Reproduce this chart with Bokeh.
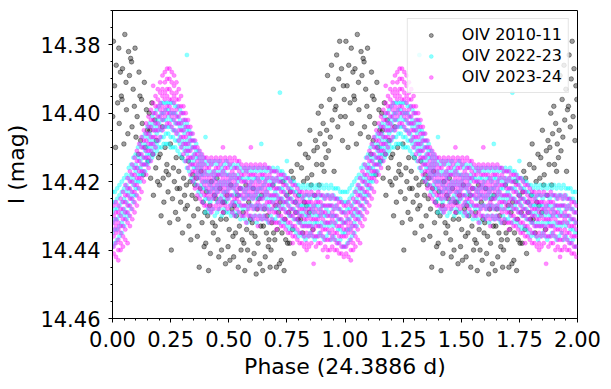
from bokeh.plotting import figure
from bokeh.models import Range1d, FixedTicker, PrintfTickFormatter
from bokeh.embed import file_html
from bokeh.resources import INLINE

# ---------------- data (phase folded, period 24.3886 d) ----------------
# OIV 2010-11 : individual points (phase, I mag)
phase_2010 = [
    0.001, 0.004, 0.009, 0.013, 0.016, 0.022, 0.027, 0.029, 0.034, 0.038,
    0.041, 0.043, 0.049, 0.053, 0.058, 0.060, 0.066, 0.069, 0.073, 0.078,
    0.082, 0.084, 0.089, 0.094, 0.097, 0.101, 0.106, 0.111, 0.114, 0.118,
    0.121, 0.125, 0.128, 0.133, 0.137, 0.141, 0.146, 0.150, 0.153, 0.158,
    0.161, 0.164, 0.169, 0.173, 0.176, 0.182, 0.186, 0.189, 0.194, 0.198,
    0.202, 0.205, 0.209, 0.214, 0.218, 0.221, 0.226, 0.231, 0.234, 0.239,
    0.241, 0.246, 0.249, 0.253, 0.258, 0.262, 0.266, 0.271, 0.274, 0.278,
    0.282, 0.285, 0.289, 0.293, 0.298, 0.301, 0.306, 0.310, 0.313, 0.318,
    0.322, 0.326, 0.329, 0.334, 0.337, 0.342, 0.345, 0.349, 0.354, 0.358,
    0.361, 0.365, 0.368, 0.373, 0.377, 0.381, 0.385, 0.390, 0.394, 0.397,
    0.401, 0.404, 0.409, 0.413, 0.418, 0.421, 0.425, 0.430, 0.434, 0.438,
    0.442, 0.445, 0.449, 0.454, 0.457, 0.462, 0.466, 0.469, 0.474, 0.478,
    0.481, 0.486, 0.489, 0.493, 0.497, 0.502, 0.505, 0.509, 0.514, 0.518,
    0.521, 0.524, 0.529, 0.533, 0.538, 0.541, 0.546, 0.549, 0.553, 0.558,
    0.562, 0.565, 0.569, 0.574, 0.577, 0.581, 0.586, 0.590, 0.593, 0.598,
    0.601, 0.605, 0.609, 0.613, 0.618, 0.622, 0.626, 0.629, 0.634, 0.638,
    0.641, 0.646, 0.649, 0.653, 0.657, 0.662, 0.665, 0.670, 0.673, 0.678,
    0.682, 0.685, 0.690, 0.693, 0.698, 0.702, 0.705, 0.709, 0.714, 0.718,
    0.721, 0.726, 0.729, 0.733, 0.738, 0.741, 0.745, 0.750, 0.753, 0.758,
    0.762, 0.765, 0.769, 0.774, 0.777, 0.781, 0.786, 0.789, 0.794, 0.798,
    0.801, 0.805, 0.809, 0.813, 0.818, 0.822, 0.825, 0.830, 0.834, 0.838,
    0.842, 0.846, 0.849, 0.854, 0.857, 0.862, 0.866, 0.869, 0.873, 0.878,
    0.881, 0.885, 0.889, 0.893, 0.898, 0.901, 0.906, 0.910, 0.913, 0.918,
    0.921, 0.925, 0.929, 0.934, 0.937, 0.942, 0.945, 0.950, 0.953, 0.957,
    0.961, 0.964, 0.969, 0.973, 0.977, 0.981, 0.985, 0.989, 0.993, 0.997,
]
mag_2010 = [
    14.401, 14.379, 14.392, 14.410, 14.386, 14.397, 14.381, 14.403, 14.388, 14.395,
    14.396, 14.387, 14.409, 14.377, 14.391, 14.399, 14.406, 14.382, 14.389, 14.384,
    14.385, 14.404, 14.393, 14.398, 14.381, 14.407, 14.401, 14.412, 14.388, 14.395,
    14.408, 14.396, 14.403, 14.418, 14.391, 14.410, 14.399, 14.405, 14.414, 14.400,
    14.405, 14.419, 14.397, 14.412, 14.424, 14.402, 14.416, 14.408, 14.420, 14.413,
    14.421, 14.412, 14.430, 14.404, 14.419, 14.426, 14.410, 14.417, 14.415, 14.423,
    14.418, 14.432, 14.409, 14.440, 14.425, 14.416, 14.420, 14.429, 14.413, 14.422,
    14.431, 14.417, 14.422, 14.426, 14.413, 14.435, 14.419, 14.424, 14.428, 14.421,
    14.427, 14.414, 14.433, 14.420, 14.437, 14.424, 14.418, 14.430, 14.421, 14.425,
    14.419, 14.436, 14.428, 14.445, 14.422, 14.417, 14.432, 14.426, 14.439, 14.429,
    14.438, 14.423, 14.430, 14.446, 14.427, 14.441, 14.420, 14.432, 14.435, 14.424,
    14.433, 14.425, 14.419, 14.437, 14.442, 14.422, 14.431, 14.440, 14.426, 14.429,
    14.426, 14.444, 14.431, 14.424, 14.439, 14.434, 14.443, 14.421, 14.428, 14.436,
    14.442, 14.427, 14.435, 14.430, 14.424, 14.445, 14.433, 14.422, 14.440, 14.437,
    14.429, 14.438, 14.446, 14.421, 14.434, 14.440, 14.426, 14.443, 14.431, 14.435,
    14.432, 14.422, 14.441, 14.436, 14.447, 14.428, 14.438, 14.425, 14.444, 14.433,
    14.424, 14.446, 14.433, 14.428, 14.442, 14.435, 14.430, 14.439, 14.437, 14.445,
    14.440, 14.432, 14.421, 14.435, 14.437, 14.427, 14.445, 14.434, 14.429, 14.444,
    14.426, 14.443, 14.435, 14.420, 14.446, 14.431, 14.437, 14.424, 14.438, 14.429,
    14.438, 14.423, 14.417, 14.434, 14.419, 14.441, 14.426, 14.429, 14.415, 14.431,
    14.424, 14.409, 14.431, 14.416, 14.435, 14.420, 14.426, 14.412, 14.427, 14.419,
    14.413, 14.429, 14.405, 14.421, 14.418, 14.434, 14.411, 14.424, 14.408, 14.415,
    14.410, 14.400, 14.421, 14.406, 14.398, 14.415, 14.403, 14.417, 14.409, 14.413,
    14.405, 14.389, 14.411, 14.396, 14.407, 14.386, 14.402, 14.393, 14.417, 14.399,
    14.398, 14.383, 14.404, 14.390, 14.379, 14.401, 14.387, 14.408, 14.392, 14.396,
]

# OIV 2022-23 : points grouped by phase bin (bin phase, I mags in that bin)
phase_2223 = [
    0.00, 0.01, 0.02, 0.03, 0.04, 0.05, 0.06, 0.07, 0.08, 0.09,
    0.10, 0.11, 0.12, 0.13, 0.14, 0.15, 0.16, 0.17, 0.18, 0.19,
    0.20, 0.21, 0.22, 0.23, 0.24, 0.25, 0.26, 0.27, 0.28, 0.29,
    0.30, 0.31, 0.32, 0.33, 0.34, 0.35, 0.36, 0.37, 0.38, 0.39,
    0.40, 0.41, 0.42, 0.43, 0.44, 0.45, 0.46, 0.47, 0.48, 0.49,
    0.50, 0.51, 0.52, 0.53, 0.54, 0.55, 0.56, 0.57, 0.58, 0.59,
    0.60, 0.61, 0.62, 0.63, 0.64, 0.65, 0.66, 0.67, 0.68, 0.69,
    0.70, 0.71, 0.72, 0.73, 0.74, 0.75, 0.76, 0.77, 0.78, 0.79,
    0.80, 0.81, 0.82, 0.83, 0.84, 0.85, 0.86, 0.87, 0.88, 0.89,
    0.90, 0.91, 0.92, 0.93, 0.94, 0.95, 0.96, 0.97, 0.98, 0.99,
]
mag_2223 = [
    [14.423, 14.426, 14.429, 14.432, 14.435, 14.439],
    [14.423, 14.426, 14.428, 14.431, 14.434, 14.438],
    [14.422, 14.425, 14.428, 14.431, 14.434, 14.437],
    [14.421, 14.424, 14.427, 14.430, 14.433, 14.436],
    [14.420, 14.423, 14.426, 14.429, 14.432, 14.435],
    [14.419, 14.422, 14.425, 14.428, 14.430, 14.433],
    [14.418, 14.421, 14.423, 14.426, 14.429, 14.431],
    [14.416, 14.419, 14.422, 14.424, 14.427, 14.430],
    [14.415, 14.418, 14.420, 14.423, 14.425, 14.428],
    [14.413, 14.416, 14.419, 14.421, 14.424, 14.426],
    [14.412, 14.415, 14.417, 14.420, 14.422, 14.424],
    [14.410, 14.413, 14.416, 14.418, 14.420, 14.422],
    [14.409, 14.412, 14.414, 14.416, 14.418, 14.420],
    [14.407, 14.410, 14.413, 14.415, 14.417, 14.418],
    [14.406, 14.409, 14.411, 14.413, 14.415, 14.417],
    [14.404, 14.407, 14.410, 14.412, 14.414, 14.415],
    [14.403, 14.406, 14.408, 14.410, 14.412, 14.414],
    [14.401, 14.404, 14.407, 14.409, 14.411, 14.413],
    [14.400, 14.403, 14.405, 14.408, 14.410, 14.412],
    [14.399, 14.402, 14.404, 14.406, 14.409, 14.411],
    [14.398, 14.401, 14.403, 14.405, 14.408, 14.410],
    [14.397, 14.400, 14.402, 14.405, 14.407, 14.410],
    [14.397, 14.400, 14.402, 14.404, 14.407, 14.409],
    [14.397, 14.399, 14.402, 14.404, 14.406, 14.409],
    [14.397, 14.399, 14.401, 14.404, 14.406, 14.409],
    [14.397, 14.400, 14.402, 14.404, 14.407, 14.410],
    [14.397, 14.400, 14.402, 14.405, 14.407, 14.410],
    [14.398, 14.400, 14.403, 14.405, 14.408, 14.410],
    [14.398, 14.401, 14.403, 14.406, 14.408, 14.411],
    [14.399, 14.402, 14.404, 14.407, 14.409, 14.412],
    [14.400, 14.403, 14.405, 14.408, 14.410, 14.413],
    [14.402, 14.404, 14.406, 14.409, 14.411, 14.414],
    [14.383, 14.403, 14.405, 14.408, 14.410, 14.412, 14.416],
    [14.405, 14.407, 14.409, 14.411, 14.414, 14.417],
    [14.406, 14.408, 14.410, 14.413, 14.415, 14.419],
    [14.408, 14.410, 14.412, 14.414, 14.416, 14.420],
    [14.409, 14.411, 14.413, 14.416, 14.418, 14.421],
    [14.411, 14.413, 14.415, 14.417, 14.419, 14.423],
    [14.412, 14.414, 14.416, 14.418, 14.421, 14.424],
    [14.413, 14.415, 14.418, 14.420, 14.422, 14.426],
    [14.407, 14.414, 14.417, 14.420, 14.422, 14.425, 14.429],
    [14.415, 14.418, 14.420, 14.423, 14.425, 14.428],
    [14.414, 14.417, 14.421, 14.423, 14.426, 14.429],
    [14.415, 14.418, 14.420, 14.422, 14.425, 14.428],
    [14.414, 14.417, 14.419, 14.422, 14.424, 14.430],
    [14.415, 14.418, 14.421, 14.423, 14.426, 14.429],
    [14.414, 14.417, 14.420, 14.422, 14.425, 14.428],
    [14.416, 14.418, 14.421, 14.424, 14.426, 14.430],
    [14.415, 14.417, 14.420, 14.423, 14.425, 14.428],
    [14.414, 14.418, 14.421, 14.423, 14.426, 14.429],
    [14.415, 14.418, 14.420, 14.422, 14.425, 14.429],
    [14.416, 14.419, 14.421, 14.424, 14.427, 14.430],
    [14.415, 14.418, 14.422, 14.424, 14.426, 14.429],
    [14.416, 14.419, 14.421, 14.423, 14.426, 14.430],
    [14.415, 14.418, 14.420, 14.424, 14.427, 14.429],
    [14.416, 14.419, 14.422, 14.424, 14.427, 14.431],
    [14.417, 14.419, 14.422, 14.425, 14.428, 14.430],
    [14.416, 14.420, 14.423, 14.425, 14.427, 14.431],
    [14.417, 14.419, 14.422, 14.424, 14.428, 14.432],
    [14.416, 14.419, 14.421, 14.424, 14.427, 14.430],
    [14.417, 14.420, 14.422, 14.425, 14.427, 14.431],
    [14.416, 14.419, 14.422, 14.424, 14.428, 14.430],
    [14.417, 14.419, 14.423, 14.425, 14.427, 14.432],
    [14.416, 14.420, 14.422, 14.424, 14.427, 14.430],
    [14.409, 14.417, 14.419, 14.422, 14.425, 14.428, 14.431],
    [14.416, 14.419, 14.421, 14.424, 14.427, 14.430],
    [14.417, 14.420, 14.423, 14.425, 14.428, 14.431],
    [14.416, 14.419, 14.422, 14.424, 14.427, 14.432],
    [14.417, 14.420, 14.422, 14.425, 14.428, 14.430],
    [14.416, 14.419, 14.421, 14.424, 14.426, 14.431],
    [14.417, 14.420, 14.423, 14.425, 14.428, 14.431],
    [14.416, 14.419, 14.422, 14.424, 14.427, 14.430],
    [14.394, 14.417, 14.420, 14.422, 14.425, 14.428, 14.432],
    [14.417, 14.419, 14.422, 14.425, 14.427, 14.431],
    [14.418, 14.420, 14.423, 14.426, 14.428, 14.432],
    [14.414, 14.419, 14.421, 14.424, 14.426, 14.429, 14.433],
    [14.419, 14.422, 14.425, 14.427, 14.430, 14.434],
    [14.420, 14.422, 14.425, 14.428, 14.430, 14.433],
    [14.420, 14.423, 14.426, 14.428, 14.431, 14.434],
    [14.421, 14.423, 14.426, 14.429, 14.431, 14.435],
    [14.421, 14.424, 14.427, 14.429, 14.432, 14.436],
    [14.422, 14.424, 14.427, 14.430, 14.432, 14.435],
    [14.421, 14.425, 14.427, 14.429, 14.433, 14.436],
    [14.422, 14.424, 14.428, 14.430, 14.432, 14.437],
    [14.421, 14.424, 14.427, 14.430, 14.433, 14.436],
    [14.422, 14.425, 14.427, 14.429, 14.432, 14.435],
    [14.421, 14.424, 14.428, 14.430, 14.433, 14.436],
    [14.422, 14.424, 14.427, 14.429, 14.432, 14.437],
    [14.421, 14.425, 14.427, 14.430, 14.432, 14.436],
    [14.422, 14.424, 14.428, 14.430, 14.433, 14.435],
    [14.421, 14.424, 14.427, 14.429, 14.432, 14.436],
    [14.422, 14.425, 14.427, 14.430, 14.433, 14.437],
    [14.421, 14.424, 14.428, 14.430, 14.432, 14.436],
    [14.422, 14.424, 14.427, 14.429, 14.433, 14.435],
    [14.421, 14.425, 14.427, 14.430, 14.432, 14.437],
    [14.422, 14.424, 14.428, 14.430, 14.433, 14.436],
    [14.422, 14.425, 14.427, 14.430, 14.432, 14.437],
    [14.422, 14.425, 14.428, 14.431, 14.434, 14.438],
    [14.423, 14.425, 14.428, 14.431, 14.434, 14.437],
    [14.423, 14.426, 14.429, 14.432, 14.435, 14.439],
]

# OIV 2023-24 : points grouped by phase bin (bin phase, I mags in that bin)
phase_2324 = [
    0.005, 0.015, 0.025, 0.035, 0.045, 0.055, 0.065, 0.075, 0.085, 0.095,
    0.105, 0.115, 0.125, 0.135, 0.145, 0.155, 0.165, 0.175, 0.185, 0.195,
    0.205, 0.215, 0.225, 0.235, 0.245, 0.255, 0.265, 0.275, 0.285, 0.295,
    0.305, 0.315, 0.325, 0.335, 0.345, 0.355, 0.365, 0.375, 0.385, 0.395,
    0.405, 0.415, 0.425, 0.435, 0.445, 0.455, 0.465, 0.475, 0.485, 0.495,
    0.505, 0.515, 0.525, 0.535, 0.545, 0.555, 0.565, 0.575, 0.585, 0.595,
    0.605, 0.615, 0.625, 0.635, 0.645, 0.655, 0.665, 0.675, 0.685, 0.695,
    0.705, 0.715, 0.725, 0.735, 0.745, 0.755, 0.765, 0.775, 0.785, 0.795,
    0.805, 0.815, 0.825, 0.835, 0.845, 0.855, 0.865, 0.875, 0.885, 0.895,
    0.905, 0.915, 0.925, 0.935, 0.945, 0.955, 0.965, 0.975, 0.985, 0.995,
]
mag_2324 = [
    [14.427, 14.430, 14.432, 14.434, 14.436, 14.439, 14.441],
    [14.426, 14.429, 14.431, 14.433, 14.435, 14.438, 14.442],
    [14.427, 14.429, 14.432, 14.434, 14.437, 14.440, 14.443],
    [14.425, 14.428, 14.430, 14.433, 14.435, 14.438, 14.440],
    [14.423, 14.426, 14.428, 14.431, 14.433, 14.436, 14.439],
    [14.421, 14.424, 14.426, 14.429, 14.431, 14.434, 14.437],
    [14.419, 14.422, 14.424, 14.427, 14.429, 14.432, 14.438],
    [14.417, 14.420, 14.422, 14.425, 14.427, 14.430, 14.433],
    [14.415, 14.418, 14.420, 14.423, 14.425, 14.428, 14.431],
    [14.413, 14.416, 14.418, 14.421, 14.423, 14.426, 14.429],
    [14.411, 14.414, 14.416, 14.419, 14.421, 14.424, 14.427],
    [14.409, 14.412, 14.414, 14.417, 14.419, 14.422, 14.425],
    [14.407, 14.410, 14.412, 14.415, 14.417, 14.419, 14.423],
    [14.405, 14.408, 14.410, 14.413, 14.415, 14.417, 14.420],
    [14.403, 14.406, 14.408, 14.411, 14.413, 14.415, 14.418],
    [14.401, 14.404, 14.406, 14.409, 14.411, 14.413, 14.416],
    [14.399, 14.402, 14.404, 14.407, 14.409, 14.411, 14.414],
    [14.392, 14.397, 14.400, 14.402, 14.405, 14.407, 14.409, 14.412],
    [14.395, 14.398, 14.400, 14.403, 14.405, 14.407, 14.410],
    [14.393, 14.396, 14.398, 14.401, 14.403, 14.405, 14.408],
    [14.391, 14.394, 14.397, 14.399, 14.401, 14.404, 14.407],
    [14.389, 14.393, 14.395, 14.398, 14.400, 14.402, 14.405],
    [14.388, 14.391, 14.394, 14.396, 14.399, 14.401, 14.404],
    [14.387, 14.390, 14.393, 14.395, 14.398, 14.400, 14.403],
    [14.387, 14.390, 14.393, 14.396, 14.398, 14.400, 14.403],
    [14.388, 14.391, 14.394, 14.396, 14.399, 14.401, 14.404],
    [14.389, 14.392, 14.395, 14.397, 14.400, 14.402, 14.405],
    [14.391, 14.394, 14.396, 14.399, 14.401, 14.403, 14.406],
    [14.393, 14.396, 14.398, 14.401, 14.403, 14.405, 14.408],
    [14.395, 14.398, 14.400, 14.403, 14.405, 14.407, 14.410],
    [14.398, 14.400, 14.402, 14.405, 14.407, 14.409, 14.412],
    [14.400, 14.402, 14.404, 14.407, 14.409, 14.411, 14.414],
    [14.402, 14.404, 14.406, 14.409, 14.411, 14.413, 14.416],
    [14.404, 14.406, 14.408, 14.411, 14.413, 14.415, 14.418],
    [14.406, 14.408, 14.410, 14.413, 14.415, 14.417, 14.420],
    [14.408, 14.410, 14.412, 14.415, 14.417, 14.419, 14.422],
    [14.410, 14.412, 14.414, 14.416, 14.418, 14.421, 14.424],
    [14.411, 14.413, 14.415, 14.417, 14.419, 14.422, 14.425],
    [14.412, 14.414, 14.416, 14.418, 14.420, 14.423, 14.426],
    [14.413, 14.415, 14.417, 14.419, 14.421, 14.424, 14.427],
    [14.413, 14.416, 14.418, 14.420, 14.422, 14.424, 14.427],
    [14.414, 14.416, 14.419, 14.421, 14.423, 14.425, 14.428],
    [14.413, 14.415, 14.418, 14.420, 14.422, 14.424, 14.427, 14.429],
    [14.414, 14.417, 14.419, 14.421, 14.423, 14.425, 14.428],
    [14.413, 14.416, 14.418, 14.420, 14.422, 14.424, 14.427],
    [14.414, 14.416, 14.418, 14.421, 14.423, 14.426, 14.428],
    [14.413, 14.415, 14.418, 14.420, 14.422, 14.425, 14.427],
    [14.410, 14.414, 14.417, 14.419, 14.421, 14.423, 14.426, 14.429],
    [14.413, 14.416, 14.418, 14.420, 14.422, 14.424, 14.427],
    [14.414, 14.416, 14.419, 14.421, 14.423, 14.425, 14.428],
    [14.413, 14.415, 14.418, 14.420, 14.422, 14.424, 14.427],
    [14.414, 14.417, 14.419, 14.421, 14.424, 14.426, 14.429],
    [14.413, 14.416, 14.418, 14.420, 14.422, 14.425, 14.427, 14.430],
    [14.414, 14.416, 14.419, 14.421, 14.423, 14.425, 14.428],
    [14.414, 14.417, 14.419, 14.422, 14.424, 14.426, 14.429],
    [14.415, 14.418, 14.420, 14.422, 14.424, 14.427, 14.430],
    [14.416, 14.418, 14.420, 14.423, 14.425, 14.427, 14.430],
    [14.415, 14.417, 14.420, 14.422, 14.424, 14.427, 14.429, 14.432],
    [14.416, 14.418, 14.421, 14.423, 14.425, 14.428, 14.430],
    [14.410, 14.415, 14.418, 14.420, 14.422, 14.424, 14.427, 14.430],
    [14.416, 14.418, 14.421, 14.423, 14.425, 14.428, 14.431],
    [14.415, 14.418, 14.420, 14.422, 14.424, 14.427, 14.430],
    [14.416, 14.419, 14.421, 14.423, 14.426, 14.428, 14.431, 14.433],
    [14.415, 14.418, 14.420, 14.422, 14.425, 14.427, 14.430],
    [14.416, 14.418, 14.421, 14.423, 14.425, 14.428, 14.431],
    [14.415, 14.418, 14.420, 14.422, 14.424, 14.427, 14.430],
    [14.416, 14.419, 14.421, 14.423, 14.426, 14.428, 14.431],
    [14.416, 14.418, 14.421, 14.424, 14.426, 14.429, 14.432],
    [14.417, 14.419, 14.421, 14.424, 14.426, 14.428, 14.431],
    [14.417, 14.420, 14.422, 14.424, 14.427, 14.429, 14.432],
    [14.417, 14.419, 14.422, 14.424, 14.426, 14.429, 14.432, 14.434],
    [14.418, 14.420, 14.422, 14.425, 14.427, 14.430, 14.432],
    [14.418, 14.420, 14.423, 14.425, 14.428, 14.430, 14.433],
    [14.418, 14.421, 14.423, 14.426, 14.428, 14.431, 14.433],
    [14.419, 14.421, 14.424, 14.426, 14.429, 14.431, 14.434],
    [14.419, 14.422, 14.425, 14.427, 14.429, 14.432, 14.435],
    [14.420, 14.423, 14.425, 14.428, 14.430, 14.432, 14.435],
    [14.421, 14.423, 14.426, 14.428, 14.430, 14.433, 14.436, 14.438],
    [14.421, 14.424, 14.426, 14.429, 14.431, 14.433, 14.436],
    [14.422, 14.425, 14.427, 14.429, 14.431, 14.434, 14.437],
    [14.423, 14.426, 14.428, 14.430, 14.432, 14.435, 14.438],
    [14.423, 14.425, 14.428, 14.430, 14.433, 14.435, 14.438],
    [14.424, 14.426, 14.428, 14.431, 14.433, 14.436, 14.439],
    [14.423, 14.426, 14.429, 14.431, 14.433, 14.435, 14.438, 14.440],
    [14.424, 14.426, 14.428, 14.430, 14.433, 14.436, 14.439],
    [14.423, 14.426, 14.428, 14.431, 14.433, 14.435, 14.438],
    [14.424, 14.427, 14.429, 14.431, 14.434, 14.436, 14.444],
    [14.424, 14.426, 14.428, 14.431, 14.433, 14.436, 14.439],
    [14.423, 14.426, 14.429, 14.431, 14.433, 14.436, 14.438],
    [14.424, 14.426, 14.428, 14.430, 14.433, 14.435, 14.438],
    [14.424, 14.427, 14.429, 14.431, 14.434, 14.436, 14.440],
    [14.425, 14.427, 14.429, 14.432, 14.434, 14.437, 14.439],
    [14.424, 14.427, 14.430, 14.432, 14.434, 14.437, 14.440, 14.442],
    [14.425, 14.427, 14.430, 14.432, 14.435, 14.437, 14.440],
    [14.424, 14.427, 14.429, 14.431, 14.434, 14.436, 14.439],
    [14.425, 14.428, 14.430, 14.432, 14.435, 14.437, 14.440],
    [14.425, 14.427, 14.430, 14.433, 14.435, 14.438, 14.440],
    [14.426, 14.428, 14.431, 14.433, 14.436, 14.438, 14.441],
    [14.426, 14.429, 14.431, 14.433, 14.436, 14.439, 14.441],
    [14.427, 14.429, 14.432, 14.434, 14.436, 14.439, 14.442],
]

labels = ["OIV 2010-11", "OIV 2022-23", "OIV 2023-24"]
x_ticks = [0.0, 0.25, 0.5, 0.75, 1.0, 1.25, 1.5, 1.75, 2.0]
y_ticks = [14.38, 14.40, 14.42, 14.44, 14.46]


def expand(phases, groups):
    xs, ys = [], []
    for ph, g in zip(phases, groups):
        for m in g:
            xs.append(ph)
            ys.append(m)
    return xs, ys


def two_cycles(xs, ys):
    return list(xs) + [v + 1.0 for v in xs], list(ys) + list(ys)


x10, y10 = two_cycles(phase_2010, mag_2010)
x22, y22 = two_cycles(*expand(phase_2223, mag_2223))
x23, y23 = two_cycles(*expand(phase_2324, mag_2324))

FONT = "DejaVu Sans"

p = figure(width=605, height=387, output_backend="svg", toolbar_location=None,
           x_range=Range1d(0.0, 2.0), y_range=Range1d(14.46, 14.37),
           min_border_left=112, min_border_right=28, min_border_top=10,
           min_border_bottom=69)
p.background_fill_color = "white"
p.border_fill_color = "white"
p.outline_line_color = "black"
p.outline_line_alpha = 1.0
p.outline_line_width = 1
p.xgrid.visible = False
p.ygrid.visible = False

p.scatter(x10, y10, size=4.6, fill_color="black", fill_alpha=0.38,
          line_color="black", line_alpha=0.42, line_width=0.9, legend_label=labels[0])
p.scatter(x22, y22, size=4.2, fill_color="#00ffff", fill_alpha=0.45,
          line_color="#00ffff", line_alpha=0.45, line_width=0.5, legend_label=labels[1])
p.scatter(x23, y23, size=4.2, fill_color="#ff00ff", fill_alpha=0.45,
          line_color="#ff00ff", line_alpha=0.45, line_width=0.5, legend_label=labels[2])

for ax in (p.xaxis[0], p.yaxis[0]):
    ax.axis_line_color = "black"
    ax.major_tick_line_color = "black"
    ax.minor_tick_line_color = "black"
    ax.major_tick_in = 0
    ax.major_tick_out = 4
    ax.minor_tick_in = 0
    ax.minor_tick_out = 2
    ax.major_label_text_font = FONT
    ax.major_label_text_font_size = "21px"
    ax.major_label_text_color = "black"
    ax.axis_label_text_font = FONT
    ax.axis_label_text_font_size = "22px"
    ax.axis_label_text_font_style = "normal"
    ax.axis_label_text_color = "black"
    ax.formatter = PrintfTickFormatter(format="%.2f")

p.xaxis[0].ticker = FixedTicker(ticks=x_ticks,
                                minor_ticks=[round(0.05 * i, 2) for i in range(41)])
p.yaxis[0].ticker = FixedTicker(ticks=y_ticks,
                                minor_ticks=[round(14.37 + 0.005 * i, 3) for i in range(19)])
p.xaxis[0].axis_label = "Phase (24.3886 d)"
p.yaxis[0].axis_label = "I (mag)"
p.xaxis[0].major_label_standoff = 8
p.xaxis[0].axis_label_standoff = 4
p.yaxis[0].major_label_standoff = 8
p.yaxis[0].axis_label_standoff = 8

lg = p.legend[0]
lg.location = "top_right"
lg.margin = 8
lg.padding = 6
lg.spacing = 2
lg.glyph_width = 34
lg.glyph_height = 10
lg.label_standoff = 14
lg.label_text_font = FONT
lg.label_text_font_size = "16px"
lg.label_text_color = "black"
lg.border_line_color = "#cccccc"
lg.border_line_width = 1
lg.background_fill_color = "white"
lg.background_fill_alpha = 0.8

open("out.html", "w").write(file_html(p, INLINE))
